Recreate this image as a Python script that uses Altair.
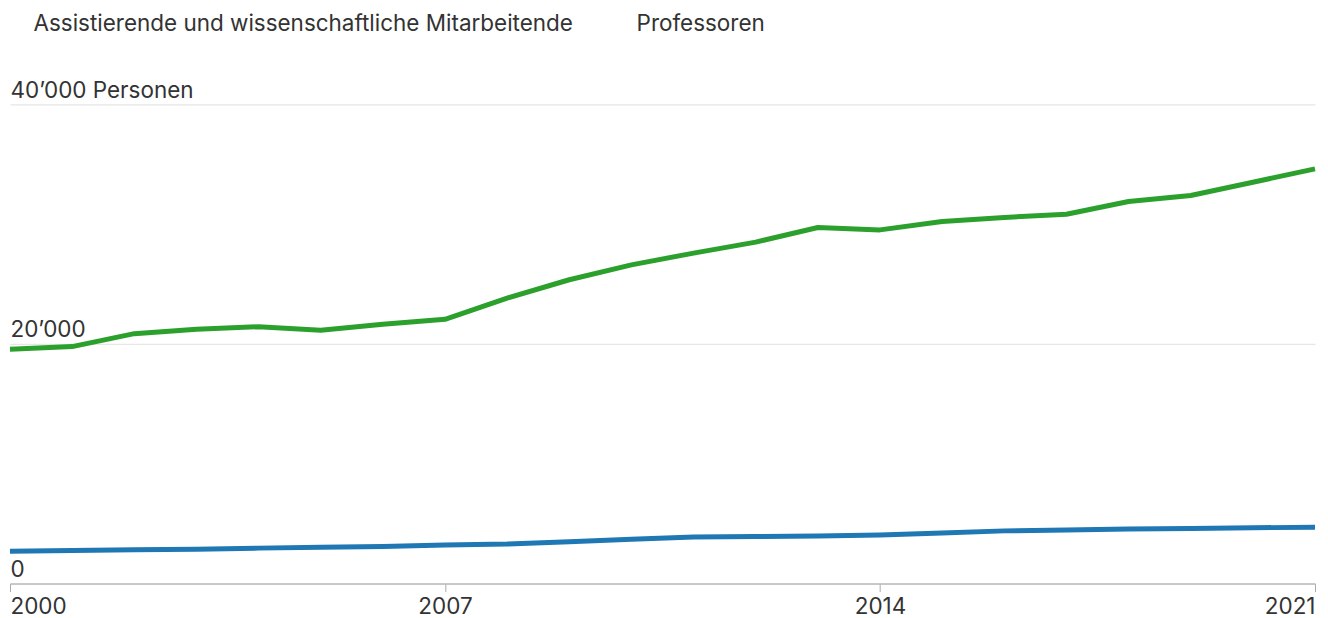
import altair as alt
import pandas as pd

years = list(range(2000, 2022))
assist = [19560, 19780, 20860, 21220, 21440, 21140, 21640, 22060, 23830, 25360,
          26600, 27580, 28500, 29720, 29520, 30220, 30560, 30830, 31890, 32390,
          33500, 34610]
prof = [2690, 2760, 2820, 2870, 2960, 3030, 3100, 3220, 3300, 3500,
        3700, 3890, 3930, 3980, 4050, 4230, 4400, 4480, 4560, 4600,
        4660, 4700]
series = ["Assistierende und wissenschaftliche Mitarbeitende", "Professoren"]
colors = ["#2ca02c", "#1f77b4"]

df = pd.concat([
    pd.DataFrame({"Jahr": years, "Wert": assist, "Gruppe": series[0]}),
    pd.DataFrame({"Jahr": years, "Wert": prof, "Gruppe": series[1]}),
])

FONT = "Inter"
TXT = "#333333"
FS = 22.5

chart = alt.Chart(df).mark_line(strokeWidth=5, strokeJoin="round").encode(
    x=alt.X("Jahr:Q",
            scale=alt.Scale(domain=[2000, 2021], nice=False, zero=False),
            axis=alt.Axis(values=[2000, 2007, 2014, 2021], format="d", title=None,
                          grid=False, labelFlush=True, tickSize=8, tickColor="#aaaaaa",
                          domainColor="#bbbbbb", domainWidth=1.5, labelPadding=4,
                          labelFontSize=FS, labelColor=TXT, labelFont=FONT)),
    y=alt.Y("Wert:Q",
            scale=alt.Scale(domain=[0, 40000], nice=False),
            axis=alt.Axis(values=[0, 20000, 40000], title=None, domain=False, ticks=False,
                          labelAlign="left", labelBaseline="bottom", labelPadding=0,
                          labelOffset=-2, labelFontSize=FS, labelColor=TXT, labelFont=FONT,
                          labelLimit=500, gridColor="#e6e6e6", gridWidth=1.2,
                          labelExpr="datum.value == 40000 ? '40’000 Personen' : replace(format(datum.value, ','), ',', '’')")),
    color=alt.Color("Gruppe:N",
                    scale=alt.Scale(domain=series, range=colors),
                    legend=alt.Legend(title=None, orient="none", legendX=1, legendY=-92,
                                      direction="horizontal", columns=2, columnPadding=40,
                                      symbolOpacity=0, symbolSize=0, symbolStrokeWidth=0,
                                      labelOffset=0, labelFontSize=FS, labelColor=TXT,
                                      labelFont=FONT, labelLimit=800)),
).properties(
    width=1307, height=480,
    autosize=alt.AutoSizeParams(type="none"),
    padding={"left": 2, "top": 96, "right": 5, "bottom": 40},
).configure_view(stroke=None)

chart.save("out.html", embed_options={"renderer": "svg", "actions": False})
